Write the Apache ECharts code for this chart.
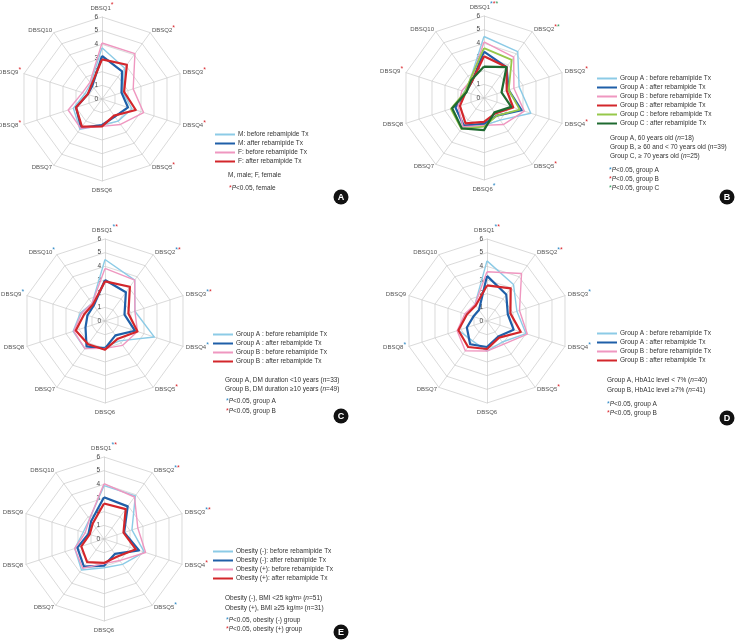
<!doctype html>
<html lang="en">
<head>
<meta charset="UTF-8">
<title>DBSQ radar</title>
<style>
  html, body { margin: 0; padding: 0; background: #fff; }
  #main { width: 735px; height: 643px; }
</style>
<script src="https://cdn.jsdelivr.net/npm/echarts@6/dist/echarts.min.js"></script>
</head>
<body>
<div id="main"></div>
<script type="text/javascript">
// axis names (clockwise from top) and scale
var axisNames = ['DBSQ1', 'DBSQ2', 'DBSQ3', 'DBSQ4', 'DBSQ5', 'DBSQ6', 'DBSQ7', 'DBSQ8', 'DBSQ9', 'DBSQ10'];
var axisMin = 0, axisMax = 6, axisSplit = 6;

// A: sex
var aMBefore = [3.75, 2.8, 1.6, 2.3, 2.0, 1.9, 2.75, 2.2, 1.3, 1.4];
var aMAfter  = [3.15, 2.5, 1.5, 2.0, 1.6, 1.9, 2.6, 2.0, 1.1, 1.2];
var aFBefore = [4.1, 4.1, 2.4, 3.2, 2.3, 2.0, 2.65, 2.6, 1.5, 1.5];
var aFAfter  = [2.9, 3.1, 1.7, 2.6, 1.5, 2.0, 2.5, 2.0, 1.1, 1.3];
// B: age
var bABefore = [4.5, 4.2, 2.7, 3.6, 2.0, 2.0, 2.6, 2.2, 1.5, 1.7];
var bAAfter  = [3.4, 2.8, 1.9, 2.9, 1.6, 1.9, 2.5, 2.2, 1.4, 1.5];
var bBBefore = [4.1, 3.7, 2.3, 3.1, 2.4, 2.0, 2.6, 2.0, 1.7, 1.6];
var bBAfter  = [3.05, 2.8, 1.75, 2.25, 1.4, 1.75, 2.3, 1.85, 1.4, 1.5];
var bCBefore = [3.65, 3.45, 1.9, 2.75, 1.6, 2.1, 2.8, 2.55, 1.45, 1.7];
var bCAfter  = [2.3, 2.8, 1.35, 2.1, 1.3, 2.35, 2.75, 2.45, 1.35, 1.6];
// C: DM duration
var cABefore = [4.5, 3.7, 2.3, 3.8, 1.8, 1.9, 2.5, 2.45, 1.9, 1.6];
var cAAfter  = [3.0, 2.6, 1.5, 2.3, 1.3, 2.0, 2.3, 1.5, 1.35, 1.4];
var cBBefore = [3.85, 3.7, 2.3, 2.5, 2.2, 2.0, 2.5, 2.4, 1.8, 1.6];
var cBAfter  = [2.9, 3.1, 1.8, 2.5, 1.6, 2.1, 2.1, 2.25, 1.6, 1.5];
// D: HbA1c
var dABefore = [4.4, 3.3, 2.3, 3.0, 1.9, 2.2, 1.8, 2.2, 1.6, 1.5];
var dAAfter  = [3.3, 2.4, 1.6, 2.05, 1.4, 1.9, 2.1, 1.55, 1.05, 1.0];
var dBBefore = [3.6, 4.3, 2.5, 3.1, 2.1, 2.2, 2.7, 2.3, 1.7, 1.5];
var dBAfter  = [2.6, 2.95, 1.8, 2.6, 1.5, 2.05, 2.35, 2.2, 1.55, 1.4];
// E: obesity
var eNBefore = [3.9, 3.9, 2.15, 3.1, 2.3, 2.1, 2.8, 2.25, 1.6, 1.8];
var eNAfter  = [3.05, 2.95, 1.55, 2.7, 1.35, 1.95, 2.5, 2.05, 1.2, 1.6];
var ePBefore = [4.05, 3.8, 2.6, 3.2, 1.95, 1.8, 2.65, 2.25, 1.45, 1.8];
var ePAfter  = [2.6, 2.7, 1.5, 2.45, 1.6, 1.75, 2.1, 1.75, 1.1, 1.4];

// significance marks per axis (b = group A / obesity(-), r = group B / female, g = group C)
var sigA = ['r', 'r', 'r', 'r', 'r', '', '', 'r', 'r', ''];
var sigB = ['brg', 'rg', 'r', 'r', 'r', 'b', '', '', 'r', ''];
var sigC = ['br', 'br', 'br', 'b', 'r', '', '', '', 'b', 'b'];
var sigD = ['br', 'br', 'b', 'b', 'r', '', '', 'b', '', ''];
var sigE = ['br', 'br', 'br', 'r', 'b', '', '', '', '', ''];

// legend names
var legA = ['M: before rebamipide Tx', 'M: after rebamipide Tx', 'F: before rebamipide Tx', 'F: after rebamipide Tx'];
var legB = ['Group A : before rebamipide Tx', 'Group A : after rebamipide Tx', 'Group B : before rebamipide Tx',
            'Group B : after rebamipide Tx', 'Group C : before rebamipide Tx', 'Group C : after rebamipide Tx'];
var legCD = ['Group A : before rebamipide Tx', 'Group A : after rebamipide Tx', 'Group B : before rebamipide Tx', 'Group B : after rebamipide Tx'];
var legE = ['Obesity (-): before rebamipide Tx', 'Obesity (-): after rebamipide Tx', 'Obesity (+): before rebamipide Tx', 'Obesity (+): after rebamipide Tx'];

var FONT = '"Liberation Sans", Arial, sans-serif';
var C_LB = '#8ccbe6', C_DB = '#1f5fa8', C_PK = '#ef97c0', C_RD = '#d3262b', C_LG = '#96c84a', C_DG = '#1f6a30';
var STAR = { b: '#2a86c4', r: '#d9262c', g: '#2f9a5c' };

// echarts radar runs counter-clockwise, so flip order after the first axis
var order = [0, 9, 8, 7, 6, 5, 4, 3, 2, 1];
function reorder(arr) { return order.map(function (i) { return arr[i]; }); }

function makeRadar(cx, cy, marks) {
    return {
        center: [cx, cy],
        radius: 82,
        startAngle: 90,
        shape: 'polygon',
        splitNumber: axisSplit,
        nameGap: 3,
        indicator: reorder(axisNames).map(function (n, i) {
            var o = { name: n, min: axisMin, max: axisMax };
            if (i === 0) {
                o.axisLabel = { show: true, fontSize: 6.5, color: '#444', fontFamily: FONT, margin: 4 };
            }
            return o;
        }),
        axisName: {
            formatter: function (name) {
                var m = marks[axisNames.indexOf(name)] || '';
                var s = '{n|' + name + '}';
                for (var k = 0; k < m.length; k++) s += '{' + m[k] + '|*}';
                return s;
            },
            rich: {
                n: { fontSize: 6, color: '#555', fontFamily: FONT, lineHeight: 12 },
                b: { fontSize: 7, color: STAR.b, lineHeight: 6, verticalAlign: 'top' },
                r: { fontSize: 7, color: STAR.r, lineHeight: 6, verticalAlign: 'top' },
                g: { fontSize: 7, color: STAR.g, lineHeight: 6, verticalAlign: 'top' }
            }
        },
        axisLine: { lineStyle: { color: '#cacaca', width: 0.7 } },
        splitLine: { lineStyle: { color: '#cacaca', width: 0.7 } },
        splitArea: { show: false },
        axisTick: { show: false },
        axisLabel: { show: false }
    };
}

function line(radarIndex, name, values, color, width) {
    return {
        type: 'radar',
        radarIndex: radarIndex,
        symbol: 'none',
        lineStyle: { color: color, width: width },
        itemStyle: { color: color },
        data: [{ name: name, value: reorder(values) }]
    };
}

function makeLegend(names, left, top) {
    return {
        data: names,
        orient: 'vertical',
        left: left,
        top: top,
        icon: 'rect',
        itemWidth: 20,
        itemHeight: 2,
        itemGap: 2,
        padding: 0,
        selectedMode: false,
        textStyle: { fontSize: 6.5, color: '#333', fontFamily: FONT, padding: [0, 0, 0, -2] }
    };
}

var noteRich = {
    i: { fontStyle: 'italic', fontSize: 6.5, fill: '#333', fontFamily: FONT },
    b: { fontSize: 7, fill: STAR.b, lineHeight: 5, verticalAlign: 'top' },
    r: { fontSize: 7, fill: STAR.r, lineHeight: 5, verticalAlign: 'top' },
    g: { fontSize: 7, fill: STAR.g, lineHeight: 5, verticalAlign: 'top' }
};
function note(text, x, y) {
    return {
        type: 'text',
        silent: true,
        style: {
            text: text, x: x, y: y, verticalAlign: 'middle',
            fill: '#333', font: '6.5px ' + FONT, rich: noteRich
        }
    };
}
function badge(letter, x, y) {
    return {
        type: 'group', x: x, y: y, silent: true,
        children: [
            { type: 'circle', shape: { cx: 0, cy: 0, r: 7.5 }, style: { fill: '#111' } },
            { type: 'text', style: { text: letter, x: 0, y: 0.5, align: 'center', verticalAlign: 'middle',
                fill: '#fff', font: 'bold 9px ' + FONT } }
        ]
    };
}

var myChart = echarts.init(document.getElementById('main'));

var option = {
    backgroundColor: '#fff',
    animation: false,
    radar: [
        makeRadar(102, 99, sigA),
        makeRadar(484, 98, sigB),
        makeRadar(105, 321, sigC),
        makeRadar(487, 321, sigD),
        makeRadar(104, 539, sigE)
    ],
    legend: [
        makeLegend(legA, 215, 131),
        makeLegend(legB, 597, 75),
        makeLegend(legCD, 213, 331),
        makeLegend(legCD, 597, 330),
        makeLegend(legE, 213, 548)
    ],
    series: [
        line(0, legA[0], aMBefore, C_LB, 1.4),
        line(0, legA[1], aMAfter, C_DB, 2.2),
        line(0, legA[2], aFBefore, C_PK, 1.4),
        line(0, legA[3], aFAfter, C_RD, 2.2),

        line(1, legB[0], bABefore, C_LB, 1.4),
        line(1, legB[1], bAAfter, C_DB, 2.2),
        line(1, legB[2], bBBefore, C_PK, 1.4),
        line(1, legB[3], bBAfter, C_RD, 2.2),
        line(1, legB[4], bCBefore, C_LG, 1.8),
        line(1, legB[5], bCAfter, C_DG, 2.2),

        line(2, legCD[0], cABefore, C_LB, 1.4),
        line(2, legCD[1], cAAfter, C_DB, 2.2),
        line(2, legCD[2], cBBefore, C_PK, 1.4),
        line(2, legCD[3], cBAfter, C_RD, 2.2),

        line(3, legCD[0], dABefore, C_LB, 1.4),
        line(3, legCD[1], dAAfter, C_DB, 2.2),
        line(3, legCD[2], dBBefore, C_PK, 1.4),
        line(3, legCD[3], dBAfter, C_RD, 2.2),

        line(4, legE[0], eNBefore, C_LB, 1.4),
        line(4, legE[1], eNAfter, C_DB, 2.2),
        line(4, legE[2], ePBefore, C_PK, 1.4),
        line(4, legE[3], ePAfter, C_RD, 2.2)
    ],
    graphic: [
        note('M, male; F, female', 228, 175),
        note('{r|*}{i|P}<0.05, female', 229, 188),

        note('Group A, 60 years old ({i|n}=18)', 610, 138),
        note('Group B, \u2265 60 and < 70 years old ({i|n}=39)', 610, 147),
        note('Group C, \u2265 70 years old ({i|n}=25)', 610, 156),
        note('{b|*}{i|P}<0.05, group A', 609, 170),
        note('{r|*}{i|P}<0.05, group B', 609, 179),
        note('{g|*}{i|P}<0.05, group C', 609, 188),

        note('Group A, DM duration <10 years ({i|n}=33)', 225, 380),
        note('Group B, DM duration \u226510 years ({i|n}=49)', 225, 389),
        note('{b|*}{i|P}<0.05, group A', 226, 401),
        note('{r|*}{i|P}<0.05, group B', 226, 411),

        note('Group A, HbA1c level < 7% ({i|n}=40)', 607, 380),
        note('Group B, HbA1c level \u22657% ({i|n}=41)', 607, 390),
        note('{b|*}{i|P}<0.05, group A', 607, 404),
        note('{r|*}{i|P}<0.05, group B', 607, 413),

        note('Obesity (-), BMI <25 kg/m\u00b2 ({i|n}=51)', 225, 598),
        note('Obesity (+), BMI \u226525 kg/m\u00b2 ({i|n}=31)', 225, 608),
        note('{b|*}{i|P}<0.05, obesity (-) group', 226, 620),
        note('{r|*}{i|P}<0.05, obesity (+) group', 226, 629),

        badge('A', 341, 197),
        badge('B', 727, 197),
        badge('C', 341, 416),
        badge('D', 727, 418),
        badge('E', 341, 632)
    ]
};

myChart.setOption(option);
</script>
</body>
</html>
